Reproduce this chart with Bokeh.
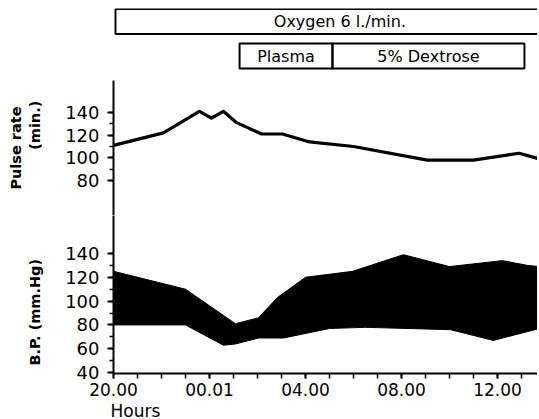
from bokeh.plotting import figure
from bokeh.models import ColumnDataSource, Range1d, FixedTicker, Title
from bokeh.layouts import column
from bokeh.embed import file_html
from bokeh.resources import INLINE
from bokeh.core.properties import value

# ---------------- data ----------------
# time in hours after 20.00
tick_hours = [0, 4, 8, 12, 16]
tick_labels = ["20.00", "00.01", "04.00", "08.00", "12.00"]

treatments = ["Oxygen 6 l./min.", "Plasma", "5% Dextrose"]
treat_start = [0, 5.17, 9.04]
treat_end = [18.7, 9.04, 17.04]
treat_row = [2, 1, 1]

pulse_hours = [0, 2.08, 3.58, 4.08, 4.58, 5.13, 6.17, 7.04, 8.17, 10.0, 13.08, 15.0, 16.9, 17.75]
pulse_rate = [111, 122, 141, 135, 141, 131, 121, 121, 114, 110, 98, 98, 104, 99]

sys_hours = [0, 3.0, 5.08, 6.04, 6.83, 8.0, 9.96, 12.08, 14.0, 16.2, 17.25, 17.75]
systolic = [125, 110, 81, 86, 103, 120, 125, 139, 129, 134, 130, 129]
dia_hours = [0, 3.0, 4.58, 5.08, 6.04, 7.08, 9.0, 10.5, 14.04, 15.83, 17.75]
diastolic = [80, 80, 63, 64, 69, 69, 77, 78, 76, 67, 77]

pulse_ticks = [80, 100, 120, 140]
bp_ticks = [40, 60, 80, 100, 120, 140]

FONT = "DejaVu Sans"
NB = "\u00a0"
x_range = Range1d(0, 17.667)


def base(fig):
    fig.grid.visible = False
    fig.outline_line_color = None
    fig.background_fill_color = "white"
    fig.border_fill_color = "white"
    return fig


def style_y(ax, ticks, label):
    ax.ticker = FixedTicker(ticks=ticks, minor_ticks=list(range(ticks[0], ticks[-1] + 1, 10)))
    ax.axis_line_width = 2
    ax.axis_line_color = "black"
    ax.major_tick_line_width = 2
    ax.minor_tick_line_width = 1.5
    ax.major_tick_out = 6
    ax.major_tick_in = 0
    ax.minor_tick_out = 4
    ax.minor_tick_in = 0
    ax.major_label_standoff = 8
    ax.major_label_text_font = FONT
    ax.major_label_text_font_size = "18px"
    ax.major_label_text_color = "black"
    ax.axis_label = label
    ax.axis_label_standoff = 19
    ax.axis_label_text_font = FONT
    ax.axis_label_text_font_size = "14.5px"
    ax.axis_label_text_font_style = "bold"
    ax.axis_label_text_color = "black"


# ---------------- treatment boxes ----------------
top = base(figure(frame_width=426, frame_height=72, min_border_left=111, min_border_right=0,
                  min_border_top=8, min_border_bottom=0,
                  x_range=Range1d(-2 / 24, 17.667), y_range=Range1d(0.29, 2.377),
                  x_axis_location=None, y_axis_location=None,
                  toolbar_location=None, output_backend="svg"))
tsrc = ColumnDataSource(dict(
    name=treatments, left=treat_start, right=treat_end,
    bottom=[r - 0.36 for r in treat_row], top=[r + 0.36 for r in treat_row],
    mid=[(a + b) / 2 for a, b in zip(treat_start, treat_end)], row=treat_row))
top.quad(left="left", right="right", bottom="bottom", top="top", source=tsrc,
         fill_color=None, line_color="black", line_width=2)
top.text(x="mid", y="row", text="name", source=tsrc, text_align="center",
         text_baseline="middle", text_font=value(FONT), text_font_size="16px",
         text_color="black")

# ---------------- pulse ----------------
pulse = base(figure(frame_width=424, frame_height=135, min_border_left=113, min_border_right=0,
                    min_border_top=0, min_border_bottom=0,
                    x_range=x_range, y_range=Range1d(49.1, 168.2),
                    x_axis_location=None, toolbar_location=None, output_backend="svg"))
style_y(pulse.yaxis[0], pulse_ticks, "Pulse rate\n" + NB * 9 + "(min.)")
pulse.line(pulse_hours, pulse_rate, line_color="black", line_width=3.2, line_join="round")

# ---------------- blood pressure ----------------
bp = base(figure(frame_width=424, frame_height=158, min_border_left=113, min_border_right=0,
                 min_border_top=0, min_border_bottom=45,
                 x_range=x_range, y_range=Range1d(39.2, 171.9),
                 toolbar_location=None, output_backend="svg"))
style_y(bp.yaxis[0], bp_ticks, "B.P. (mm.Hg)" + NB * 7)
xa = bp.xaxis[0]
xa.ticker = FixedTicker(ticks=tick_hours, minor_ticks=list(range(0, 18)))
xa.major_label_overrides = {h: l for h, l in zip(tick_hours, tick_labels)}
xa.axis_line_width = 2
xa.major_tick_line_width = 2
xa.minor_tick_line_width = 1.5
xa.major_tick_out = 5
xa.major_tick_in = 0
xa.minor_tick_out = 5
xa.minor_tick_in = 0
xa.major_label_standoff = 4
xa.major_label_text_font = FONT
xa.major_label_text_font_size = "17px"
xa.major_label_text_color = "black"

bp.patch(sys_hours + dia_hours[::-1], systolic + diastolic[::-1],
         fill_color="black", line_color="black", line_width=1)
bp.add_layout(Title(text="Hours", align="left", offset=-3, standoff=0,
                    text_font=FONT, text_font_size="17px", text_font_style="normal",
                    text_color="black"), "below")

layout = column(top, pulse, bp, spacing=0)
open("out.html", "w").write(file_html(layout, INLINE))
